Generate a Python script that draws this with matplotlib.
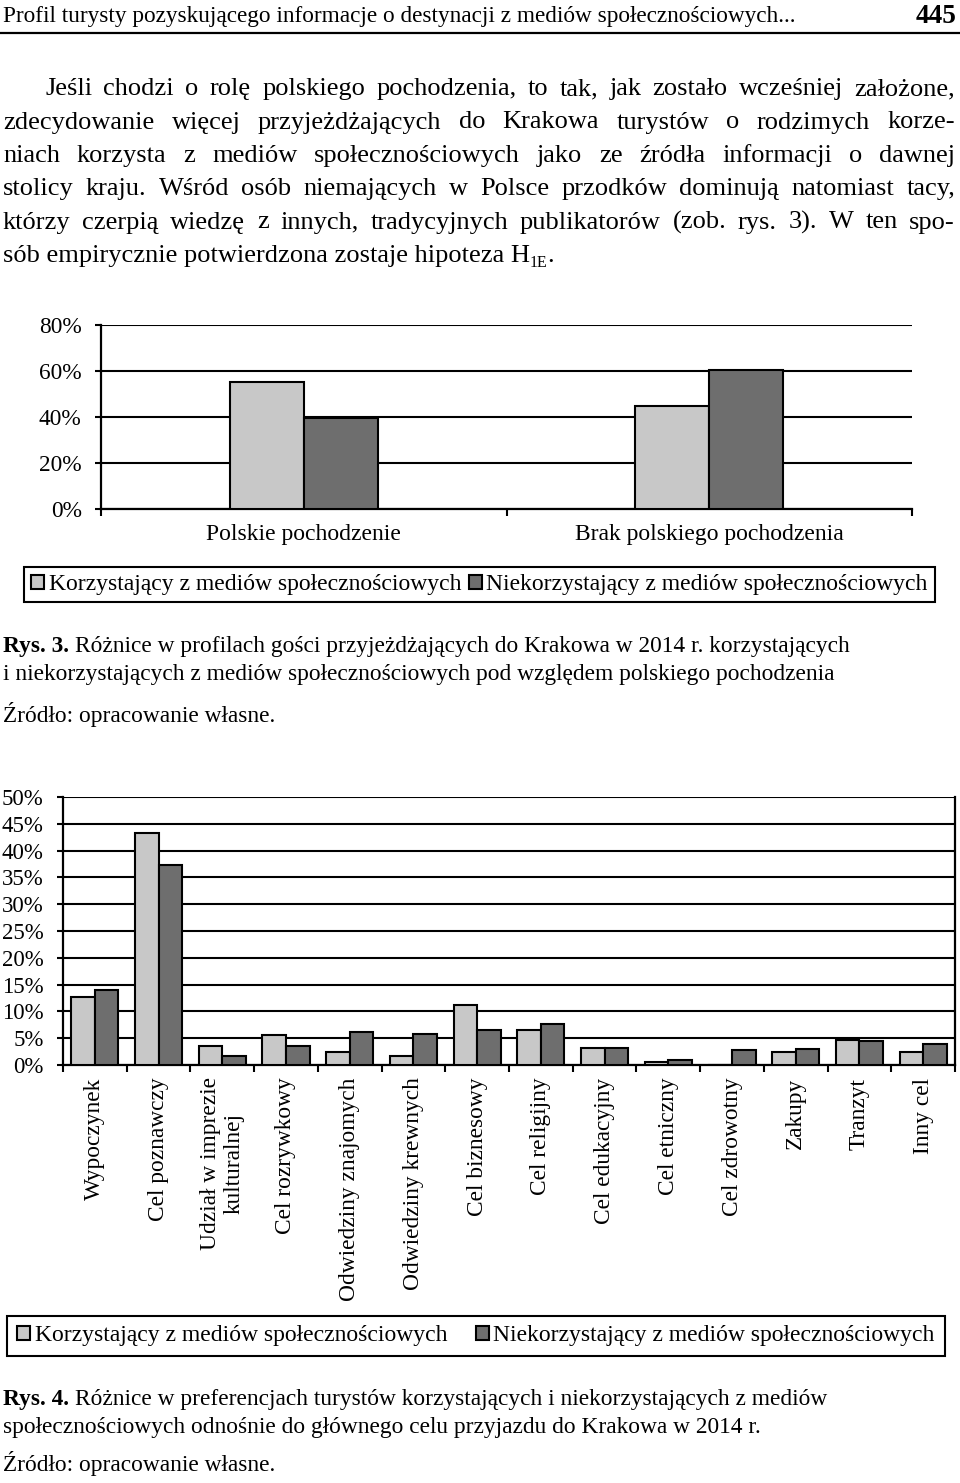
import matplotlib
matplotlib.use("Agg")
import matplotlib.pyplot as plt
from matplotlib.lines import Line2D
import numpy as np

plt.rcParams['font.family'] = ['Liberation Serif', 'DejaVu Serif']

W, H = 960, 1483

# ---- data ----
origin_cats = ['Polskie pochodzenie', 'Brak polskiego pochodzenia']
origin_users = [55.4, 44.6]
origin_nonusers = [39.6, 60.4]
origin_ticks = [0, 20, 40, 60, 80]

purpose_cats = ['Wypoczynek', 'Cel poznawczy', 'Udział w imprezie\nkulturalnej',
                'Cel rozrywkowy', 'Odwiedziny znajomych', 'Odwiedziny krewnych',
                'Cel biznesowy', 'Cel religijny', 'Cel edukacyjny', 'Cel etniczny',
                'Cel zdrowotny', 'Zakupy', 'Tranzyt', 'Inny cel']
purpose_users = [12.7, 43.2, 3.6, 5.6, 2.5, 1.6, 11.2, 6.6, 3.1, 0.5, 0.0, 2.5, 4.7, 2.5]
purpose_nonusers = [13.9, 37.4, 1.7, 3.6, 6.2, 5.8, 6.6, 7.6, 3.2, 0.9, 2.8, 2.9, 4.4, 3.9]
purpose_ticks = [0, 5, 10, 15, 20, 25, 30, 35, 40, 45, 50]

series_names = ['Korzystający z mediów społecznościowych',
                'Niekorzystający z mediów społecznościowych']
light = '#c8c8c8'
dark = '#6e6e6e'

header = 'Profil turysty pozyskującego informacje o destynacji z mediów społecznościowych...'
page_no = '445'
body_lines = [
    'Jeśli chodzi o rolę polskiego pochodzenia, to tak, jak zostało wcześniej założone,',
    'zdecydowanie więcej przyjeżdżających do Krakowa turystów o rodzimych korze-',
    'niach korzysta z mediów społecznościowych jako ze źródła informacji o dawnej',
    'stolicy kraju. Wśród osób niemających w Polsce przodków dominują natomiast tacy,',
    'którzy czerpią wiedzę z innych, tradycyjnych publikatorów (zob. rys. 3). W ten spo-',
]
last_line = 'sób empirycznie potwierdzona zostaje hipoteza H'
caption3 = ('Rys. 3.', 'Różnice w profilach gości przyjeżdżających do Krakowa w 2014 r. korzystających',
            'i niekorzystających z mediów społecznościowych pod względem polskiego pochodzenia')
caption4 = ('Rys. 4.', 'Różnice w preferencjach turystów korzystających i niekorzystających z mediów',
            'społecznościowych odnośnie do głównego celu przyjazdu do Krakowa w 2014 r.')
source = 'Źródło: opracowanie własne.'

fig = plt.figure(figsize=(9.6, 14.83), dpi=100)
renderer = fig.canvas.get_renderer()


def fx(x):
    return x / W


def fy(y):
    return 1 - y / H


def text_width(s, size, weight='normal'):
    t = fig.text(0, 0, s, fontsize=size, fontweight=weight)
    w = t.get_window_extent(renderer).width
    t.remove()
    return w


def put(x, y, s, size, weight='normal', ha='left'):
    fig.text(fx(x), fy(y), s, fontsize=size, fontweight=weight, ha=ha, va='baseline')


def justify(line, x0, x1, y, size):
    words = line.split()
    widths = [text_width(w, size) for w in words]
    gap = (x1 - x0 - sum(widths)) / (len(words) - 1)
    x = x0
    for w, ww in zip(words, widths):
        put(x, y, w, size)
        x += ww + gap


# ---- header ----
hs = min(18, 20 * 792 / text_width(header, 20))
put(3, 22, header, hs)
put(956, 23, page_no, 19.5, weight='bold', ha='right')
fig.add_artist(Line2D([0, 1], [fy(33), fy(33)], color='black', lw=1.6))

# ---- body paragraph ----
targets = [955 - 45] + [955 - 3] * (len(body_lines) - 1)
bs = min(20 * t * 0.97 / text_width(l, 20) for l, t in zip(body_lines, targets))
bs = min(bs, 19)
baselines = [95, 128.5, 162, 195, 228.5]
justify(body_lines[0], 45, 955, baselines[0], bs)
for line, yb in zip(body_lines[1:], baselines[1:]):
    justify(line, 3, 955, yb, bs)
put(3, 262, last_line, bs)
xh = 3 + text_width(last_line, bs)
put(xh, 267, '1E', bs * 0.6)
put(xh + text_width('1E', bs * 0.6), 262, '.', bs)

# ---- captions ----
cs = min(16.8, 20 * 830 / text_width(caption3[2], 20))


def caption(cap, y1, y2, y3):
    put(3, y1, cap[0], cs, weight='bold')
    put(3 + text_width(cap[0] + ' ', cs, 'bold'), y1, cap[1], cs)
    put(3, y2, cap[2], cs)
    put(3, y3, source, cs)


caption(caption3, 652, 680, 722)
caption(caption4, 1405, 1433, 1471)


def style_axis(ax, ticks, ncat):
    ax.set_ylim(ticks[0], ticks[-1])
    ax.set_yticks(ticks)
    ax.set_yticklabels([f'{t}%' for t in ticks])
    ax.set_xlim(-0.5, ncat - 0.5)
    ax.yaxis.grid(True, color='black', lw=1.5)
    ax.set_axisbelow(True)
    ax.spines['top'].set_visible(False)
    for s in ('left', 'bottom', 'right'):
        ax.spines[s].set_linewidth(1.6)
    ax.set_xticks(np.arange(-0.5, ncat), minor=True)
    ax.tick_params(axis='x', which='minor', length=5, width=1.5, direction='out')
    ax.tick_params(axis='x', which='major', length=0)
    ax.tick_params(axis='y', length=4.5, width=1.5, direction='out', pad=9.4)


def add_legend(ax, bars, cx, cy, colsp, bpad):
    leg = ax.legend(bars, series_names, ncol=2, loc='center',
                    bbox_to_anchor=(fx(cx), fy(cy)), bbox_transform=fig.transFigure,
                    fancybox=False, framealpha=1, edgecolor='black', fontsize=17,
                    handlelength=0.55, handleheight=0.55, handletextpad=0.2,
                    columnspacing=colsp, borderpad=bpad, borderaxespad=0)
    leg.get_frame().set_linewidth(1.5)


# ---- chart 1: origin ----
ax1 = fig.add_axes([fx(101), fy(509), (912 - 101) / W, (509 - 325) / H])
x1 = np.arange(len(origin_cats))
w1 = 0.1825
b1 = ax1.bar(x1 - w1 / 2, origin_users, w1, color=light, edgecolor='black', lw=1.5, zorder=3)
b2 = ax1.bar(x1 + w1 / 2, origin_nonusers, w1, color=dark, edgecolor='black', lw=1.5, zorder=3)
style_axis(ax1, origin_ticks, len(origin_cats))
ax1.spines['right'].set_visible(False)
ax1.set_xticks(x1)
ax1.set_xticklabels(origin_cats, fontsize=17)
ax1.tick_params(axis='x', which='major', pad=10.5)
ax1.tick_params(axis='y', labelsize=16.8)
add_legend(ax1, [b1, b2], 479.5, 584.5, 0.3, 0.3)

# ---- chart 2: purpose of visit ----
ax2 = fig.add_axes([fx(63), fy(1065), (955 - 63) / W, (1065 - 797) / H])
x2 = np.arange(len(purpose_cats))
w2 = 0.37
c1 = ax2.bar(x2 - w2 / 2, purpose_users, w2, color=light, edgecolor='black', lw=1.5, zorder=3)
c2 = ax2.bar(x2 + w2 / 2, purpose_nonusers, w2, color=dark, edgecolor='black', lw=1.5, zorder=3)
style_axis(ax2, purpose_ticks, len(purpose_cats))
ax2.set_xticks(x2)
ax2.set_xticklabels(purpose_cats, fontsize=16.8, rotation=90, va='top', ha='center',
                    multialignment='center')
ax2.tick_params(axis='x', which='major', pad=9)
ax2.tick_params(axis='y', labelsize=16.5)
add_legend(ax2, [c1, c2], 476, 1336, 1.2, 0.42)

fig.savefig('out.png', dpi=100)
